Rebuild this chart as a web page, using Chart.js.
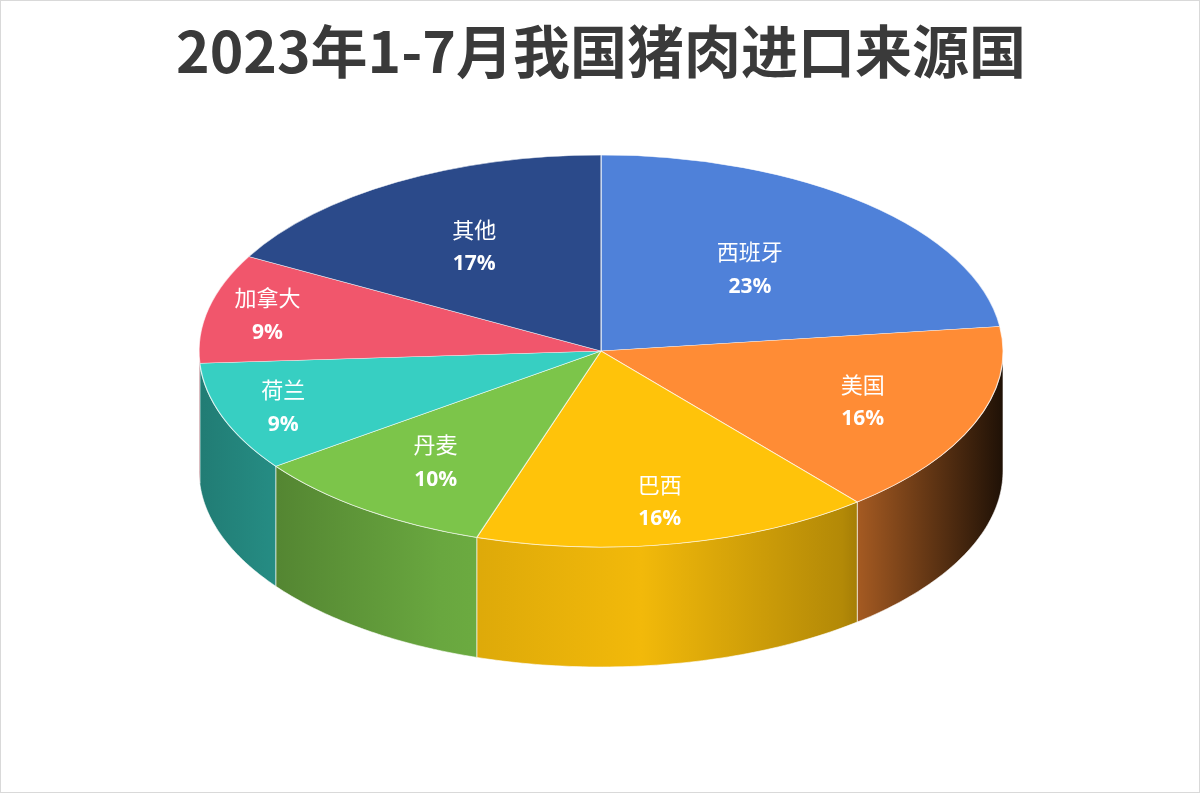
<!DOCTYPE html>
<html>
<head>
<meta charset="utf-8">
<script src="https://cdn.jsdelivr.net/npm/chart.js@4"></script>
<style>
  body { margin: 0; background: #fff; }
  #wrap { width: 1200px; height: 793px; position: relative; box-sizing: border-box; border: 1px solid #d9d9d9; }
</style>
</head>
<body>
<div id="wrap"><canvas id="c"></canvas></div>
<script>
// 数据
const countries = ['西班牙', '美国', '巴西', '丹麦', '荷兰', '加拿大', '其他'];
const shares = [23, 16, 16, 10, 9, 9, 17];
const colors = ['#4f81d9', '#ff8c35', '#ffc30a', '#7cc54a', '#37cfc2', '#f1566c', '#2b4a8a'];
const labelR = [0.56, 0.7, 0.78, 0.7, 0.84, 0.85, 0.62];

// 3D 椭圆参数
const CX = 600, CY = 350, RX = 402, RY = 196, DEPTH = 120;

function shade(hex, f) {
  const n = parseInt(hex.slice(1), 16);
  const r = Math.round(((n >> 16) & 255) * f), g = Math.round(((n >> 8) & 255) * f), b = Math.round((n & 255) * f);
  return `rgb(${r},${g},${b})`;
}

const pie3d = {
  id: 'pie3d',
  beforeDatasetsDraw(chart) {
    const ctx = chart.ctx;
    const arcs = chart.getDatasetMeta(0).data;
    // 侧面
    arcs.forEach((a, i) => {
      const s = Math.max(a.startAngle, 0), e = Math.min(a.endAngle, Math.PI);
      if (s >= e) return;
      const g = ctx.createLinearGradient(CX - RX, 0, CX + RX, 0);
      g.addColorStop(0, shade(colors[i], 0.6));
      g.addColorStop(0.3, shade(colors[i], 0.85));
      g.addColorStop(0.55, shade(colors[i], 0.95));
      g.addColorStop(0.8, shade(colors[i], 0.7));
      g.addColorStop(1, shade(colors[i], 0.12));
      ctx.save();
      ctx.beginPath();
      const steps = 60;
      for (let k = 0; k <= steps; k++) {
        const t = s + (e - s) * k / steps;
        const x = CX + RX * Math.cos(t), y = CY + RY * Math.sin(t);
        k ? ctx.lineTo(x, y) : ctx.moveTo(x, y);
      }
      for (let k = steps; k >= 0; k--) {
        const t = s + (e - s) * k / steps;
        ctx.lineTo(CX + RX * Math.cos(t), CY + RY * Math.sin(t) + DEPTH);
      }
      ctx.closePath();
      ctx.fillStyle = g;
      ctx.fill();
      ctx.strokeStyle = 'rgba(255,255,255,0.6)';
      ctx.lineWidth = 1;
      ctx.stroke();
      ctx.restore();
    });
    // 顶面变换
    const a0 = arcs[0];
    const sx = RX / a0.outerRadius, sy = RY / a0.outerRadius;
    ctx.save();
    ctx.translate(CX, CY);
    ctx.scale(sx, sy);
    ctx.translate(-a0.x, -a0.y);
  },
  afterDatasetsDraw(chart) {
    chart.ctx.restore();
  },
  afterDraw(chart) {
    const ctx = chart.ctx;
    const arcs = chart.getDatasetMeta(0).data;
    ctx.save();
    ctx.fillStyle = '#fff';
    ctx.textAlign = 'center';
    ctx.textBaseline = 'middle';
    arcs.forEach((a, i) => {
      const m = (a.startAngle + a.endAngle) / 2;
      const x = CX + RX * labelR[i] * Math.cos(m), y = CY + RY * labelR[i] * Math.sin(m);
      ctx.font = '22px "Noto Sans CJK SC"';
      ctx.fillText(countries[i], x, y - 17);
      ctx.font = 'bold 21px "Open Sans", "Noto Sans"';
      ctx.fillText(shares[i] + '%', x, y + 18);
    });
    ctx.restore();
  }
};

new Chart(document.getElementById('c'), {
  type: 'pie',
  data: {
    labels: countries,
    datasets: [{
      data: shares,
      backgroundColor: colors,
      borderColor: 'rgba(255,255,255,0.7)',
      borderWidth: 1
    }]
  },
  options: {
    responsive: true,
    maintainAspectRatio: false,
    animation: false,
    layout: { padding: { top: 120, bottom: 20 } },
    plugins: {
      legend: { display: false },
      tooltip: { enabled: false },
      title: { display: false }
    }
  },
  plugins: [pie3d, {
    id: 'titleText',
    afterDraw(chart) {
      const ctx = chart.ctx;
      ctx.save();
      ctx.fillStyle = '#3a3a3a';
      ctx.textAlign = 'center';
      ctx.textBaseline = 'middle';
      ctx.font = 'bold 57px "Noto Sans CJK SC"';
      ctx.fillText('2023年1-7月我国猪肉进口来源国', 600, 50);
      ctx.restore();
    }
  }]
});
</script>
</body>
</html>
